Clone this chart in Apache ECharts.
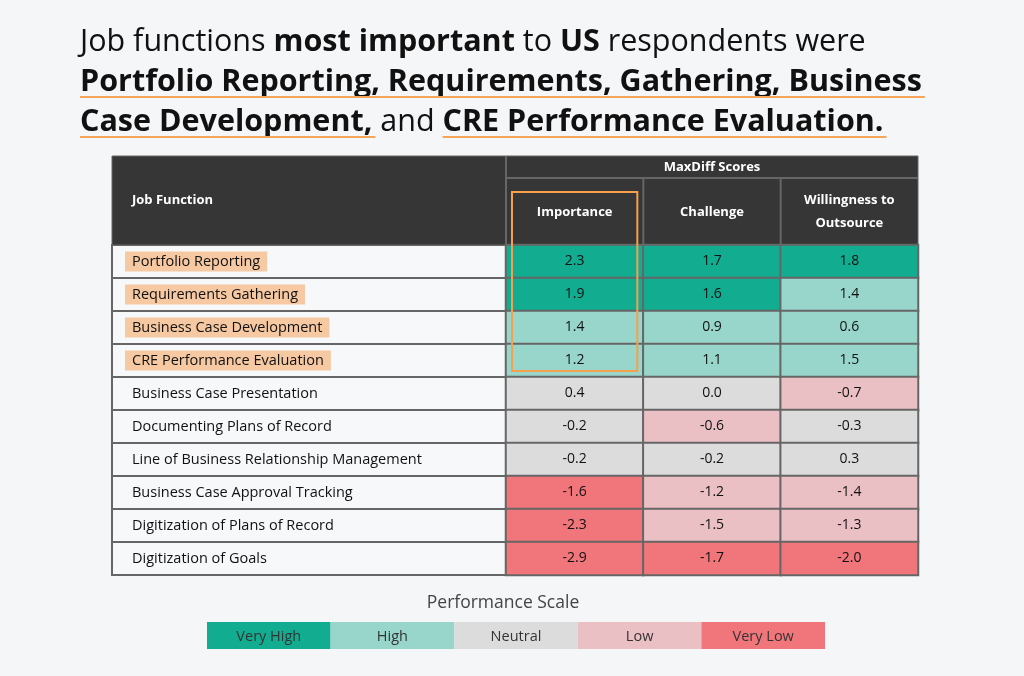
<!DOCTYPE html>
<html><head><meta charset="utf-8">
<script src="https://cdn.jsdelivr.net/npm/echarts@6/dist/echarts.min.js"></script>
<style>html,body{margin:0;padding:0;background:#f5f6f8;}#c{width:1024px;height:676px;}</style>
</head><body><div id="c"></div><script>
const jobFunctions = ['Portfolio Reporting','Requirements Gathering','Business Case Development','CRE Performance Evaluation','Business Case Presentation','Documenting Plans of Record','Line of Business Relationship Management','Business Case Approval Tracking','Digitization of Plans of Record','Digitization of Goals'];
const highlighted = [true,true,true,true,false,false,false,false,false,false];
const metrics = ['Importance','Challenge','Willingness to\nOutsource'];
const importance = [2.3,1.9,1.4,1.2,0.4,-0.2,-0.2,-1.6,-2.3,-2.9];
const challenge  = [1.7,1.6,0.9,1.1,0.0,-0.6,-0.2,-1.2,-1.5,-1.7];
const outsource  = [1.8,1.4,0.6,1.5,-0.7,-0.3,0.3,-1.4,-1.3,-2.0];
// performance level per cell: 0 Very High, 1 High, 2 Neutral, 3 Low, 4 Very Low
const importanceLevel = [0,0,1,1,2,2,2,4,4,4];
const challengeLevel  = [0,0,1,1,2,3,2,3,3,4];
const outsourceLevel  = [0,1,1,1,3,2,2,3,3,4];
const scaleLabels = ['Very High','High','Neutral','Low','Very Low'];
const scaleColors = ['#12ad91','#98d6cc','#dcdcdc','#ebc0c5','#f1767b'];

const FONT = '"Open Sans"';
const values = [importance, challenge, outsource];
const levels = [importanceLevel, challengeLevel, outsourceLevel];
const cells = [];
values.forEach((col, x) => col.forEach((v, y) => cells.push([x, y, levels[x][y], v])));

const T = {left:112, right:918, top:156, band:178, head:245, bottom:575, split:506};
const chart = echarts.init(document.getElementById('c'));

const option = {
  backgroundColor:'#f5f6f8',
  animation:false,
  textStyle:{fontFamily:FONT},
  grid:[
    {left:T.split, top:T.head, width:T.right-T.split, height:T.bottom-T.head, show:true, borderColor:'#666', borderWidth:2, backgroundColor:'transparent'},
    {left:T.left, top:T.head, width:T.split-T.left, height:T.bottom-T.head, show:true, borderColor:'#666', borderWidth:2, backgroundColor:'#f7f8fa'}
  ],
  xAxis:[
    {type:'category', gridIndex:0, position:'top', data:metrics, axisLine:{show:false}, axisTick:{show:false}, splitLine:{show:false},
     axisLabel:{color:'#fff', fontWeight:'bold', fontSize:13, fontFamily:FONT, margin:33, verticalAlign:'middle', lineHeight:23, interval:0}},
    {type:'value', gridIndex:1, min:0, max:1, show:false}
  ],
  yAxis:[
    {type:'category', gridIndex:0, inverse:true, data:jobFunctions, axisLine:{show:false}, axisTick:{show:false}, axisLabel:{show:false}, splitLine:{show:false}},
    {type:'category', gridIndex:1, inverse:true, data:jobFunctions, axisLine:{show:false}, axisTick:{show:false},
     splitLine:{show:true, interval:0, lineStyle:{color:'#666', width:2}},
     axisLabel:{inside:true, margin:13, interval:0, fontFamily:FONT,
       formatter:(name, i) => highlighted[i] ? '{hl|' + name + '}' : '{n|' + name + '}',
       rich:{
         hl:{backgroundColor:'#f6c9a2', padding:[3,7,2,7], fontSize:14.5, color:'#111', fontFamily:FONT},
         n:{padding:[3,7,2,7], fontSize:14.5, color:'#111', fontFamily:FONT}
       }}}
  ],
  visualMap:{type:'piecewise', show:false, dimension:2, seriesIndex:0,
    pieces:scaleColors.map((c, i) => ({value:i, color:c}))},
  series:[{
    type:'heatmap', xAxisIndex:0, yAxisIndex:0, data:cells,
    itemStyle:{borderColor:'#666', borderWidth:2},
    label:{show:true, color:'#111', fontSize:14, fontFamily:FONT, formatter:p => p.data[3].toFixed(1)},
    emphasis:{disabled:true}
  }]
};
chart.setOption(option);

// header & decorations derived from axes
const bandW = (T.right - T.split) / metrics.length;
const colX = metrics.map((m, i) => chart.convertToPixel({xAxisIndex:0}, i));
const rowY = jobFunctions.map((m, i) => chart.convertToPixel({yAxisIndex:0}, i));
const rowH = (T.bottom - T.head) / jobFunctions.length;

const ctx = document.createElement('canvas').getContext('2d');
function w(txt, bold, size){ ctx.font = (bold ? 'bold ' : '') + size + 'px ' + FONT; return ctx.measureText(txt).width; }

const TX = 80;
const titleLines = [
  [['Job functions ',0],['most important',1],[' to ',0],['US',1],[' respondents were',0]],
  [['Portfolio Reporting, Requirements, Gathering, Business',1]],
  [['Case Development,',1],[' and ',0],['CRE Performance Evaluation.',1]]
];
// fit the title so the widest line spans like the original layout
const TS = Math.min(31, 28 * 842 / w(titleLines[1][0][0], 1, 28));
const underlines = [[], [[0]], [[0],[2]]];
const g = [];
g.push({type:'rect', shape:{x:T.left, y:T.top, width:T.right-T.left, height:T.head-T.top}, style:{fill:'#363636', stroke:'#666', lineWidth:1}});
g.push({type:'line', shape:{x1:T.split, y1:T.top, x2:T.split, y2:T.head}, style:{stroke:'#666', lineWidth:2}});
g.push({type:'line', shape:{x1:T.split, y1:T.band, x2:T.right, y2:T.band}, style:{stroke:'#666', lineWidth:2}});
for (let i = 1; i < metrics.length; i++) {
  const x = T.split + bandW * i;
  g.push({type:'line', shape:{x1:x, y1:T.band, x2:x, y2:T.head}, style:{stroke:'#666', lineWidth:2}});
}
g.push({type:'text', x:132, y:(T.top+T.head)/2, style:{text:'Job Function', fill:'#fff', font:'bold 13px ' + FONT, textVerticalAlign:'middle'}});
g.push({type:'text', x:(T.split+T.right)/2, y:(T.top+T.band)/2, style:{text:'MaxDiff Scores', fill:'#fff', font:'bold 13px ' + FONT, textAlign:'center', textVerticalAlign:'middle'}});
// orange highlight box around Importance column (top 4 rows)
g.push({type:'rect', z:100, shape:{x:colX[0]-bandW/2+6, y:192, width:bandW-12, height:rowY[3]+rowH/2-6-192}, style:{fill:'none', stroke:'#f6a04d', lineWidth:2}});

// title
titleLines.forEach((segs, li) => {
  const y = 42 + li * 40;
  let x = TX;
  const starts = [];
  segs.forEach(([t, b]) => {
    starts.push([x, w(t, b, TS)]);
    g.push({type:'text', x:x, y:y, style:{text:t, fill:'#111', font:(b ? 'bold ' : '') + TS + 'px ' + FONT, textVerticalAlign:'middle'}});
    x += w(t, b, TS);
  });
  underlines[li].forEach(([si]) => {
    const [sx, sw] = starts[si];
    g.push({type:'line', shape:{x1:sx, y1:y+15, x2:sx+sw+3, y2:y+15}, style:{stroke:'#f6a55b', lineWidth:2}});
  });
});

// legend
const LX = 207, LW = 123.6, LY = 622, LH = 27;
g.push({type:'text', x:503, y:603, style:{text:'Performance Scale', fill:'#444', font:'17.5px ' + FONT, textAlign:'center', textVerticalAlign:'middle'}});
scaleLabels.forEach((lab, i) => {
  g.push({type:'rect', shape:{x:LX + i*LW, y:LY, width:LW, height:LH}, style:{fill:scaleColors[i]}});
  g.push({type:'text', x:LX + i*LW + LW/2, y:LY + LH/2 + 1, style:{text:lab, fill:'#333', font:'14.5px ' + FONT, textAlign:'center', textVerticalAlign:'middle'}});
});

chart.setOption({graphic:g});
</script></body></html>
